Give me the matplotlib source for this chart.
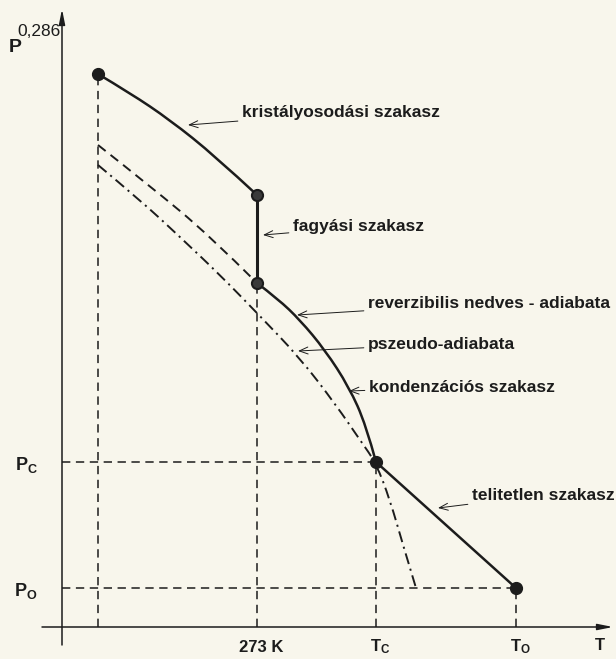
import numpy as np
import matplotlib.pyplot as plt
from matplotlib.path import Path
from matplotlib.patches import PathPatch

plt.rcParams['font.family'] = ['Liberation Sans', 'DejaVu Sans']
plt.rcParams['lines.scale_dashes'] = False
plt.rcParams['mathtext.fontset'] = 'custom'
plt.rcParams['mathtext.bf'] = 'Liberation Sans:bold'
plt.rcParams['mathtext.rm'] = 'Liberation Sans'

# schematic coordinates (no real units): T to the right, P^0.286 upward
T_cr, T_273, T_c, T_0 = 36, 195, 314, 454
P_start, P_frz_top, P_frz_bot, P_c, P_0 = 553, 432, 344, 165, 39

cryst_T = [36, 68, 108, 153, 195]
cryst_P = [553, 534, 507, 471, 432]

rev_T = [36, 88, 148, 195]
rev_P = [482, 441, 391, 344]

cond_T = [195, 216, 238, 263, 287, 304, 314]
cond_P = [344, 328, 307, 277, 240, 202, 165]

unsat_T = [314, 454]
unsat_P = [165, 39]

pseudo_T = [36, 78, 118, 158, 195, 238, 274, 298, 314, 328, 341, 354]
pseudo_P = [462, 427, 390, 352, 314, 269, 222, 187, 164, 127, 82, 39]

x_ticks = [T_273, T_c, T_0]
x_tick_labels = ['273 K', r'$\mathbf{T_C}$', r'$\mathbf{T_O}$']
y_ticks = [P_c, P_0]
y_tick_labels = [r'$\mathbf{P_C}$', r'$\mathbf{P_O}$']

# label text, arrow tip (on curve), text anchor
labels = [
    ('kristályosodási szakasz', (126, 502), (180, 514)),
    ('fagyási szakasz', (201, 392), (231, 400)),
    ('reverzibilis nedves - adiabata', (235, 312), (306, 324)),
    ('pszeudo-adiabata', (236, 276), (306, 283)),
    ('kondenzációs szakasz', (287, 236), (307, 240)),
    ('telitetlen szakasz', (376, 119), (410, 132)),
]

ink = '#1c1c1c'
bg = '#f8f6ec'


def smooth(ax, xs, ys, **kw):
    # quadratic bezier through the read points (points act as controls)
    pts = np.column_stack([xs, ys]).astype(float)
    verts, codes = [pts[0]], [Path.MOVETO]
    if len(pts) == 2:
        verts.append(pts[1])
        codes.append(Path.LINETO)
    else:
        for i in range(1, len(pts) - 1):
            end = pts[i + 1] if i == len(pts) - 2 else (pts[i] + pts[i + 1]) / 2
            verts += [pts[i], end]
            codes += [Path.CURVE3, Path.CURVE3]
    ax.add_patch(PathPatch(Path(verts, codes), fill=False, **kw))


fig = plt.figure(figsize=(6.16, 6.59), dpi=100, facecolor=bg)
ax = fig.add_axes([0, 0, 1, 1])
ax.set_facecolor(bg)
ax.set_xlim(-62, 554)
ax.set_ylim(-32, 627)
ax.axis('off')

# axes with arrows
ax.annotate('', xy=(0, 618), xytext=(0, -18),
            arrowprops=dict(arrowstyle='-|>,head_length=0.9,head_width=0.18',
                            color=ink, lw=1.1, shrinkA=0, shrinkB=0))
ax.annotate('', xy=(551, 0), xytext=(-20, 0),
            arrowprops=dict(arrowstyle='-|>,head_length=0.9,head_width=0.18',
                            color=ink, lw=1.1, shrinkA=0, shrinkB=0))

# dashed guide lines
guide = dict(color=ink, lw=1.1, ls=(0, (6, 4)))
ax.plot([T_cr, T_cr], [0, P_start], **guide)
ax.plot([T_273, T_273], [0, P_frz_bot], **guide)
ax.plot([T_c, T_c], [0, P_c], **guide)
ax.plot([T_0, T_0], [0, P_0], **guide)
ax.plot([0, T_c], [P_c, P_c], **guide)
ax.plot([0, T_0], [P_0, P_0], **guide)

# curves
smooth(ax, rev_T, rev_P, edgecolor=ink, lw=1.4, ls=(0, (7, 4.5)))
smooth(ax, pseudo_T, pseudo_P, edgecolor=ink, lw=1.4, ls=(0, (8, 3.5, 1.5, 3.5)))
smooth(ax, cryst_T, cryst_P, edgecolor=ink, lw=1.8)
ax.plot([T_273, T_273], [P_frz_top, P_frz_bot], color=ink, lw=2.2)
smooth(ax, cond_T, cond_P, edgecolor=ink, lw=1.8)
smooth(ax, unsat_T, unsat_P, edgecolor=ink, lw=1.8)

# state points
ax.plot([T_cr, T_c, T_0], [P_start, P_c, P_0], 'o', color=ink, ms=8.5)
ax.plot([T_273, T_273], [P_frz_top, P_frz_bot], 'o', color='#3a3a3a',
        ms=8, mec=ink, mew=1.5)

# annotations
for text, tip, pos in labels:
    ax.annotate(text, xy=tip, xytext=pos, fontsize=12.5, fontweight='bold',
                color=ink, va='center', ha='left',
                arrowprops=dict(arrowstyle='->,head_length=0.5,head_width=0.2',
                                color=ink, lw=0.7, shrinkA=1, shrinkB=0))

# axis labels and tick labels
ax.text(-47, 580, 'P', fontsize=14, fontweight='bold', color=ink,
        ha='center', va='center')
ax.text(-45, 595, '0,286', fontsize=12.5, color=ink, ha='left', va='center')
ax.text(538, -18, 'T', fontsize=12, fontweight='bold', color=ink,
        ha='center', va='center')
for t, lab in zip(x_ticks, x_tick_labels):
    ax.text(t + 4, -20, lab, fontsize=12, fontweight='bold', color=ink,
            ha='center', va='center')
for p, lab in zip(y_ticks, y_tick_labels):
    ax.text(-36, p - 3, lab, fontsize=13, fontweight='bold', color=ink,
            ha='center', va='center')

fig.savefig('out.png', dpi=100, facecolor=bg)
